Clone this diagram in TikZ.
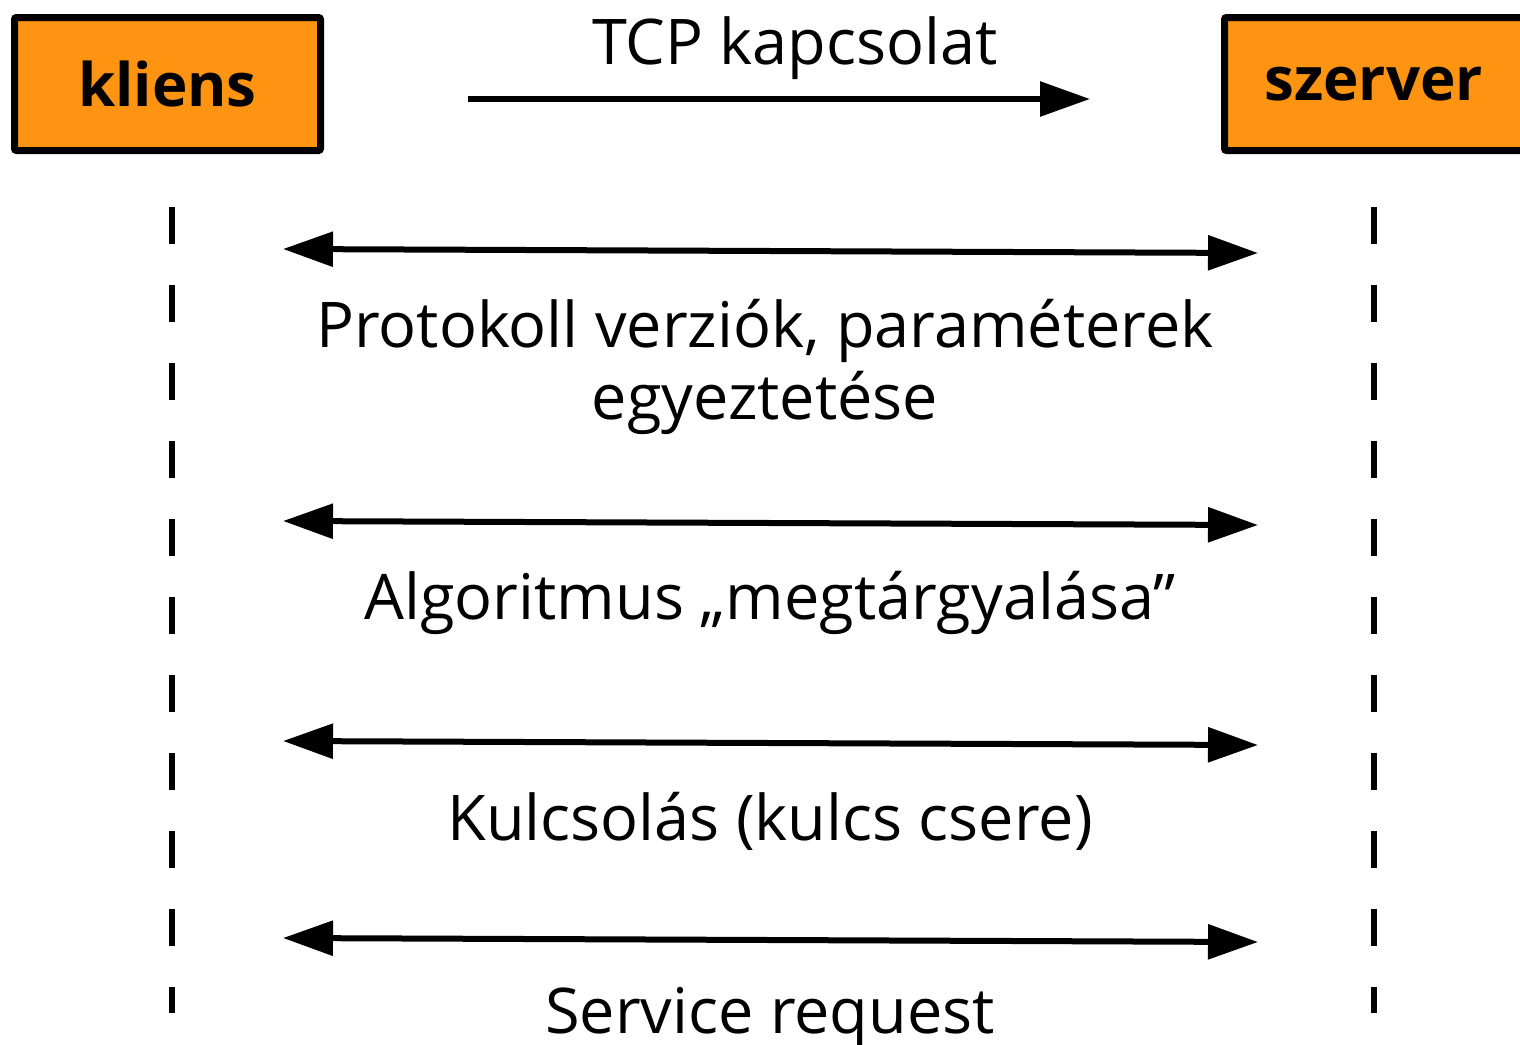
\documentclass[tikz,border=0pt]{standalone}
\usepackage{fontspec}
\setmainfont{Open Sans}
\usetikzlibrary{arrows.meta}
\definecolor{boxorange}{RGB}{255,148,18}
\tikzset{
  actor/.style={draw=black, line width=7pt, fill=boxorange, rounded corners=2pt,
    minimum width=306pt, minimum height=133pt, inner sep=0pt,
    font=\fontsize{60}{60}\selectfont\bfseries},
  msg/.style={line width=6pt, {Triangle[length=50pt,width=34pt]}-{Triangle[length=50pt,width=34pt]}},
  onemsg/.style={line width=6pt, -{Triangle[length=50pt,width=34pt]}},
  lifeline/.style={line width=6.5pt, dash pattern=on 37pt off 41pt},
  lbl/.style={font=\fontsize{63}{72}\selectfont, align=center, inner sep=0pt}
}
\begin{document}
\begin{tikzpicture}[x=1pt,y=-1pt]
\useasboundingbox (0,0) rectangle (1520,1044);
\begin{scope}
\clip (0,0) rectangle (1520,1044);
\node[actor] (kl) at (167.5,84) {\raisebox{-3pt}{kliens}};
\node[actor] (sz) at (1377.5,84) {\hspace*{-8pt}\raisebox{-3pt}{szerver}};
\coordinate (kltop) at (172,207);
\coordinate (klbot) at (172,1013);
\coordinate (sztop) at (1374,207);
\coordinate (szbot) at (1374,1013);
\draw[lifeline] (kltop) -- (klbot);
\draw[lifeline] (sztop) -- (szbot);
\coordinate (t1) at (468,99);
\coordinate (t2) at (1090,99);
\draw[onemsg] (t1) -- (t2);
\node[lbl] (tcp) at (795,48) {TCP kapcsolat};
\coordinate (a1) at (283,249); \coordinate (a2) at (1258,253);
\coordinate (b1) at (283,521); \coordinate (b2) at (1258,525);
\coordinate (c1) at (283,741); \coordinate (c2) at (1258,745);
\coordinate (d1) at (283,938); \coordinate (d2) at (1258,942);
\draw[msg] (a1) -- (a2);
\draw[msg] (b1) -- (b2);
\draw[msg] (c1) -- (c2);
\draw[msg] (d1) -- (d2);
\node[lbl] (la) at (765,367) {Protokoll verziók, paraméterek\\egyeztetése};
\node[lbl] (lb) at (770,603) {Algoritmus „megtárgyalása”};
\node[lbl] (lc) at (770,821) {Kulcsolás (kulcs csere)};
\node[lbl] (ld) at (770,1018) {Service request};
\end{scope}
\end{tikzpicture}
\end{document}
